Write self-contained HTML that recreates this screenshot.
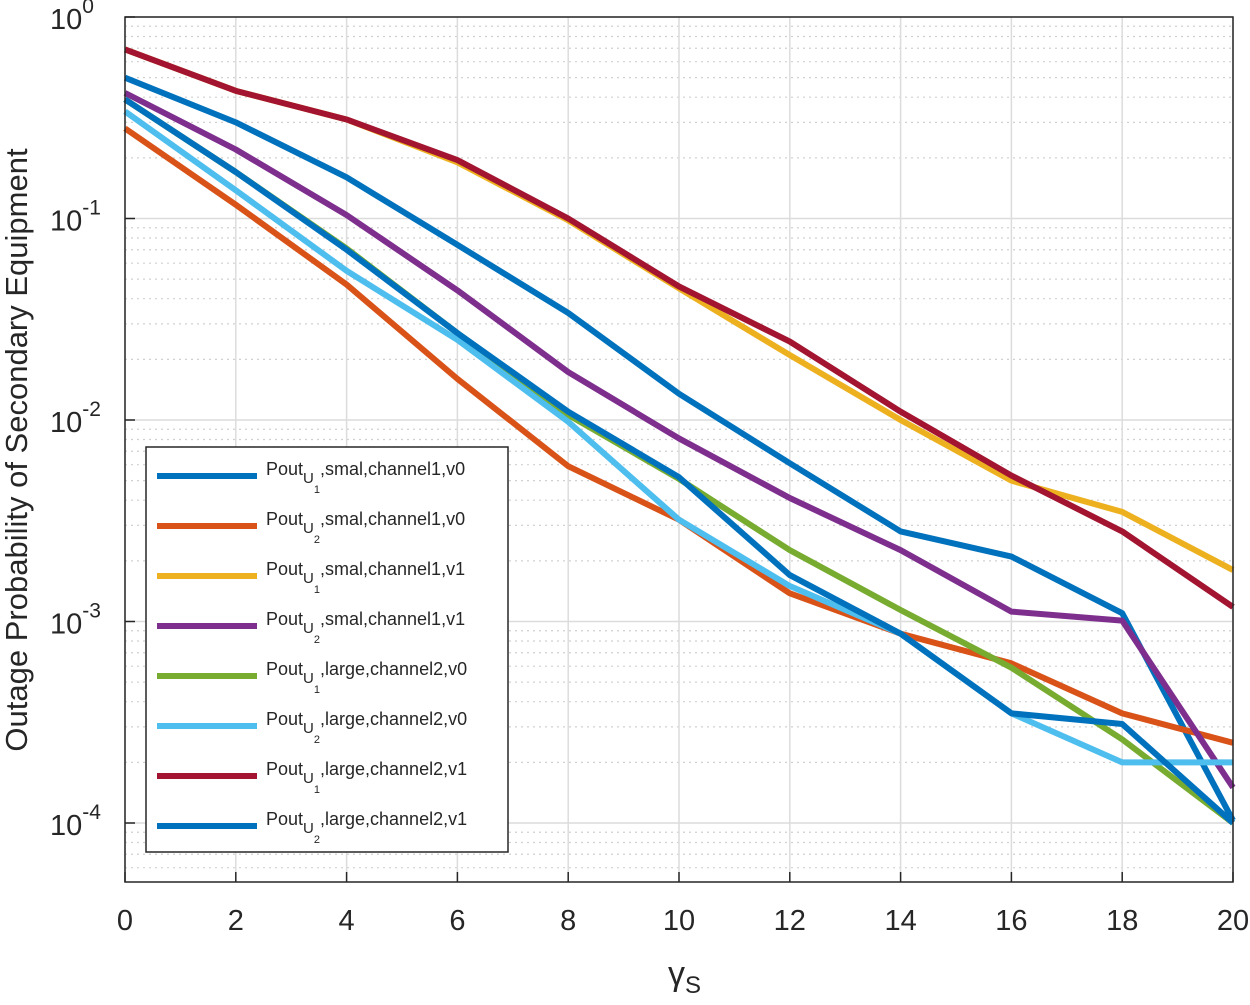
<!DOCTYPE html>
<html><head><meta charset="utf-8"><style>
body{margin:0;background:#fff;}
svg text{font-family:"Liberation Sans",Arial,sans-serif;fill:#262626;}
</style></head><body>
<svg id="chart" width="1250" height="1000" xmlns="http://www.w3.org/2000/svg">
<g id="grid"></g>
<g id="series"></g>
<g id="axes"></g>
<g id="legend"></g>
<text x="0" y="0" font-size="31" text-anchor="middle" transform="translate(27,450) rotate(-90)">Outage Probability of Secondary Equipment</text>
<text x="668" y="985" font-size="34">γ<tspan font-size="24" dy="8">S</tspan></text>
</svg>
<script>
const xs=[0,2,4,6,8,10,12,14,16,18,20];
const s1=[0.50,0.30,0.16,0.074,0.034,0.0135,0.0061,0.0028,0.0021,0.0011,0.000103];
const s2=[0.28,0.117,0.047,0.016,0.0059,0.0032,0.00138,0.00087,0.00062,0.00035,0.00025];
const s3=[0.69,0.43,0.31,0.19,0.098,0.045,0.021,0.010,0.0050,0.0035,0.0018];
const s4=[0.42,0.22,0.104,0.044,0.0173,0.0081,0.0041,0.00226,0.00112,0.00101,0.00015];
const s5=[0.39,0.17,0.071,0.027,0.0106,0.0051,0.00226,0.00114,0.00059,0.00026,0.0001];
const s6=[0.34,0.138,0.055,0.025,0.0098,0.0032,0.0015,0.00087,0.00035,0.0002,0.0002];
const s7=[0.69,0.43,0.31,0.195,0.10,0.046,0.0245,0.011,0.0053,0.0028,0.00118];
const s8=[0.39,0.17,0.070,0.027,0.011,0.0052,0.0017,0.00087,0.00035,0.00031,0.0001];
const colors=['#0072BD','#D95319','#EDB120','#7E2F8E','#77AC30','#4DBEEE','#A2142F','#0072BD'];
const labels=['smal,channel1,v0','smal,channel1,v0','smal,channel1,v1','smal,channel1,v1','large,channel2,v0','large,channel2,v0','large,channel2,v1','large,channel2,v1'];
const users=['1','2','1','2','1','2','1','2'];
const xTicks=[0,2,4,6,8,10,12,14,16,18,20];
const yExp=[0,-1,-2,-3,-4];
const series=[s1,s2,s3,s4,s5,s6,s7,s8];
const NS='http://www.w3.org/2000/svg';
const X0=125,X1=1233,YT=17,YB=882,DEC=201.5;
const xS=v=>X0+(v-0)/20*(X1-X0);
const yS=v=>YT-Math.log10(v)*DEC;
function mk(t,a,p){const e=document.createElementNS(NS,t);for(const k in a)e.setAttribute(k,a[k]);p.appendChild(e);return e;}
const grid=document.getElementById('grid'),axes=document.getElementById('axes'),ser=document.getElementById('series'),leg=document.getElementById('legend');
// minor grid
for(let d=0;d>=-5;d--){for(let m=2;m<=9;m++){const y=yS(m*Math.pow(10,d-1));if(y<YT||y>YB)continue;
const l=mk('line',{x1:X0,x2:X1,y1:y,y2:y,stroke:'#d0d0d0','stroke-width':1.2,'stroke-dasharray':'2,4'},grid);
}}
for(const e of yExp){const y=yS(Math.pow(10,e));const l=mk('line',{x1:X0,x2:X1,y1:y,y2:y,stroke:'#dcdcdc','stroke-width':1.5},grid);

const t=mk('text',{x:X0-40,y:y+12,'font-size':29,'text-anchor':'end'},axes);
t.innerHTML='10<tspan font-size="21" dy="-16">'+(e===0?'0':e)+'</tspan>';
t.setAttribute('x',X0-48);t.setAttribute('text-anchor','start');t.setAttribute('x',50);
const tk=mk('line',{x1:X0,x2:X0+10,y1:y,y2:y,stroke:'#262626','stroke-width':1.5},axes);}
for(const v of xTicks){const x=xS(v);const l=mk('line',{x1:x,x2:x,y1:YT,y2:YB,stroke:'#dcdcdc','stroke-width':1.5},grid);

const t=mk('text',{x:x,y:930,'font-size':29,'text-anchor':'middle'},axes);t.textContent=v;

const tk=mk('line',{x1:x,x2:x,y1:YB,y2:YB-10,stroke:'#262626','stroke-width':1.5},axes);}
const box=mk('rect',{x:X0,y:YT,width:X1-X0,height:YB-YT,fill:'none',stroke:'#262626','stroke-width':1.5},axes);

series.forEach((s,i)=>{const p=mk('polyline',{points:s.map((v,j)=>xS(xs[j])+','+yS(v)).join(' '),fill:'none',stroke:colors[i],'stroke-width':6,'stroke-linejoin':'round'},ser);
});
const lb=mk('rect',{x:146,y:447,width:362,height:405,fill:'#fff',stroke:'#262626','stroke-width':1.5},leg);

labels.forEach((lab,i)=>{const y=476+i*50;const g=mk('g',{},leg);
mk('line',{x1:157,x2:257,y1:y,y2:y,stroke:colors[i],'stroke-width':6},g);
const t=mk('text',{x:266,y:y-1,'font-size':18},g);
t.innerHTML='Pout<tspan font-size="15" dy="8">U</tspan><tspan font-size="11" dy="10">'+users[i]+'</tspan><tspan dy="-18">,'+lab+'</tspan>';});
</script>
</body></html>
